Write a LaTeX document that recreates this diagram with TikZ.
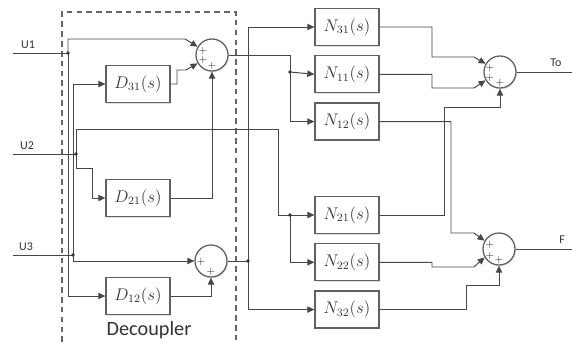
\documentclass[tikz,border=0pt]{standalone}
\usepackage{fontspec}
\setsansfont{Carlito}
\usetikzlibrary{positioning,arrows.meta,shadows}

\begin{document}
\begin{tikzpicture}[x=0.025cm, y=-0.025cm, >={Triangle[length=5pt,width=4.5pt]},
    wire/.style={draw=black!72, line width=0.7pt},
    blk/.style={draw=black!62, line width=0.9pt, rectangle, fill=white, minimum width=1.6cm, minimum height=0.925cm, inner sep=0pt, font=\large, text=black!80, drop shadow={opacity=0.25, shadow xshift=0.7pt, shadow yshift=-0.9pt}},
    sum/.style={draw=black!62, line width=0.9pt, circle, fill=white, minimum size=0.8cm, inner sep=0pt, drop shadow={opacity=0.25, shadow xshift=0.7pt, shadow yshift=-0.9pt}},
    plus/.style={font=\fontsize{7}{7}\selectfont, inner sep=0pt, text=black!85},
    sig/.style={font=\sffamily\fontsize{8.5}{9}\selectfont, text=black!80, inner sep=0pt}]

  \useasboundingbox (0,0) rectangle (572,342);

  \draw[black!60, line width=0.8pt, dash pattern=on 4pt off 3pt] (62,342) -- (62,12) -- (236,12) -- (236,342);
  \node[font=\sffamily\fontsize{14.4}{16}\selectfont, text=black!80] (dec) at (149,330) {Decoupler};

  % inputs and branch points
  \coordinate (i1) at (13,53);
  \coordinate (i2) at (13,154);
  \coordinate (i3) at (13,255);
  \coordinate (j1) at (68,53);
  \coordinate (j2) at (76,154);
  \coordinate (j3) at (73,255);
  \coordinate (k1) at (290,72);
  \coordinate (k2) at (248,261);
  \coordinate (k3) at (290,215);
  \coordinate (o1) at (572,72);
  \coordinate (o2) at (572,249);

  \node[sig] (u1) at (28,45) {U1};
  \node[sig] (u2) at (27,146) {U2};
  \node[sig] (u3) at (26,247) {U3};
  \node[sig] (lto) at (556,63) {To};
  \node[sig] (lf) at (562,240) {F};

  % decoupler
  \node[blk] (d31) at (138,84) {$D_{31}(s)$};
  \node[blk] (d21) at (138,198) {$D_{21}(s)$};
  \node[blk] (d12) at (138,296) {$D_{12}(s)$};
  \node[sum] (s1) at (212,55) {};
  \node[sum] (s2) at (211,261) {};

  % plant
  \node[blk] (n31) at (347,27) {$N_{31}(s)$};
  \node[blk, below=0.225cm of n31] (n11) {$N_{11}(s)$};
  \node[blk, below=0.225cm of n11] (n12) {$N_{12}(s)$};
  \node[blk] (n21) at (347,215) {$N_{21}(s)$};
  \node[blk, below=0.225cm of n21] (n22) {$N_{22}(s)$};
  \node[blk, below=0.225cm of n22] (n32) {$N_{32}(s)$};
  \node[sum] (s3) at (500,72) {};
  \node[sum] (s4) at (499,249) {};

  \node[plus] (p11) at (203,51) {+};
  \node[plus] (p12) at (203,60) {+};
  \node[plus] (p13) at (212,66) {+};
  \node[plus] (p21) at (201,262) {+};
  \node[plus] (p22) at (211,272) {+};
  \node[plus] (p31) at (490,68) {+};
  \node[plus] (p32) at (490,78) {+};
  \node[plus] (p33) at (500,83) {+};
  \node[plus] (p41) at (490,245) {+};
  \node[plus] (p42) at (490,256) {+};
  \node[plus] (p43) at (499,260) {+};

  \draw[wire] (i1) -- (j1);
  \draw[wire] (i2) -- (j2);
  \draw[wire] (i3) -- (j3);
  \draw[wire,->] (j1) |- (185,39) -- (s1.150);
  \draw[wire,->] (j1) |- (d12.west);
  \draw[wire,->] (j3) |- (d31.west);
  \draw[wire,->] (j3) |- (s2.west);
  \draw[wire,->] (j2) |- (92,168) |- (d21.west);
  \draw[wire,->] (d31.east) -| (177,70) -- (186,70) -- (s1.210);
  \draw[wire,->] (d21.east) -| (s1.south);
  \draw[wire,->] (d12.east) -| (s2.south);

  \draw[wire] (s1.east) -| (k1);
  \draw[wire,->] (k1) -- (n11.west);
  \draw[wire,->] (k1) |- (n12.west);
  \draw[wire] (s2.east) -- (k2);
  \draw[wire,->] (k2) |- (n31.west);
  \draw[wire,->] (k2) |- (n32.west);
  \draw[wire] (j2) |- (278,129) |- (k3);
  \draw[wire,->] (k3) -- (n21.west);
  \draw[wire,->] (k3) |- (n22.west);

  \draw[wire,->] (n31.east) -| (432,57) -- (474,57) -- (s3.150);
  \draw[wire,->] (n11.east) -| (432,88) -- (474,88) -- (s3.210);
  \draw[wire,->] (n21.east) -| (444,107) -| (s3.south);
  \draw[wire,->] (n12.east) -| (451,233) -- (474,233) -- (s4.150);
  \draw[wire,->] (n22.east) -| (432,267) -- (474,267) -- (s4.210);
  \draw[wire,->] (n32.east) -| (466,285) -| (s4.south);
  \draw[wire] (s3.east) -- (o1);
  \draw[wire] (s4.east) -- (o2);

  \foreach \j in {j1,j2,j3,k1,k2,k3}
    \fill[black!80] (\j) circle (1.3pt);
\end{tikzpicture}
\end{document}
